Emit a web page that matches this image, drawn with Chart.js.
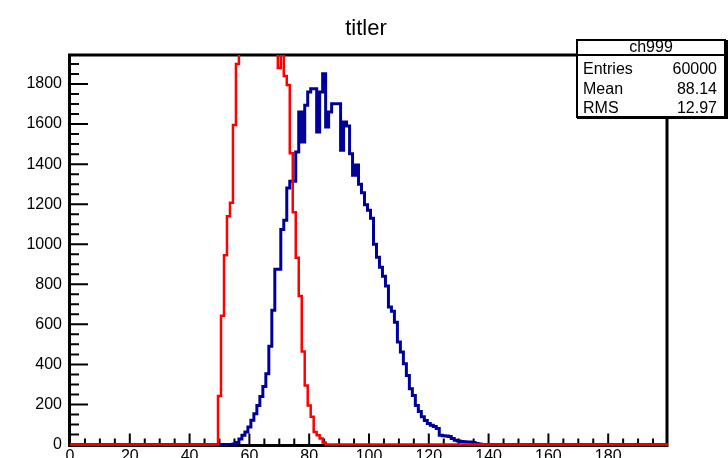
<!DOCTYPE html>
<html>
<head>
<meta charset="utf-8">
<script src="https://cdn.jsdelivr.net/npm/chart.js@4"></script>
<style>
  html, body { margin: 0; padding: 0; background: #fff; }
  #wrap { width: 728px; height: 458px; }
</style>
</head>
<body>
<div id="wrap"><canvas id="hist"></canvas></div>
<script>
// histogram binning: 200 bins of width 1, bin k is centred on k
const nBins = 200;
const xMax = 200;
const yMax = 1945;

// ch999 (blue), first filled bin is 55
const blueStart = 55;
const blueCounts = [3, 10, 28, 46, 63, 88, 121, 154, 195, 240, 290, 353, 490, 670,
    875, 875, 1074, 1120, 1281, 1314, 1314,
    1461, 1660, 1511, 1694, 1760, 1777, 1777, 1561, 1760, 1851,
    1585, 1660, 1702, 1702, 1702, 1469, 1610, 1590, 1452, 1345,
    1396, 1300, 1257, 1197, 1170, 1130, 1000, 935, 885, 840,
    792, 686, 666, 611, 512, 462, 403, 345, 278, 245,
    195, 165, 138, 120, 105, 96, 90, 80, 46, 44, 42, 40, 30, 21,
    18, 15, 14, 13, 12, 10, 5, 2];

// second histogram drawn "same" (red), first filled bin is 50
const redStart = 50;
const redCounts = [242, 643, 945, 1140, 1207, 1596, 1900,
    2150, 2400, 2600, 2800, 2950, 3050, 3100, 3080, 3000, 2850, 2650, 2400, 2150,
    1880, 1990, 1840, 1795, 1455, 1160, 933, 742, 464,
    295, 195, 138, 63, 46, 30, 10];

const xTicks = [0, 20, 40, 60, 80, 100, 120, 140, 160, 180];
const yTicks = [0, 200, 400, 600, 800, 1000, 1200, 1400, 1600, 1800];

const titleText = 'titler';
const statName = 'ch999';
const statLabels = ['Entries', 'Mean', 'RMS'];
const statValues = ['60000', '88.14', '12.97'];

// one point per bin low edge, stepped line holds the value across the bin
function histPoints(start, counts) {
    const pts = [];
    for (let k = 0; k <= nBins; k++) {
        const j = k - start;
        pts.push({ x: k - 0.5, y: (j >= 0 && j < counts.length) ? counts[j] : 0 });
    }
    pts.push({ x: nBins + 0.5, y: 0 });
    return pts;
}

const FONT = "'Liberation Sans', Arial, Helvetica, sans-serif";
Chart.defaults.font.family = FONT;
Chart.defaults.font.size = 16;
Chart.defaults.color = '#000';

// inner ticks + frame like ROOT
const rootFrame = {
    id: 'rootFrame',
    beforeDatasetsDraw(chart) {
        const { ctx, chartArea: a, scales } = chart;
        const x = scales.x, y = scales.y;
        ctx.save();
        ctx.strokeStyle = '#000';
        ctx.lineWidth = 2;
        ctx.beginPath();
        for (let v = 5; v < xMax; v += 5) {
            const px = x.getPixelForValue(v);
            const len = v % 20 === 0 ? 11 : 6;
            ctx.moveTo(px, a.bottom);
            ctx.lineTo(px, a.bottom - len);
        }
        for (let v = 50; v < yMax; v += 50) {
            const py = y.getPixelForValue(v);
            const len = v % 200 === 0 ? 18 : 9;
            ctx.moveTo(a.left, py);
            ctx.lineTo(a.left + len, py);
        }
        ctx.stroke();
        ctx.lineWidth = 3;
        ctx.strokeRect(a.left - 0.5, a.top, a.right - a.left - 0.5, a.bottom - a.top + 1);
        ctx.restore();
    }
};

// title (centred on the whole canvas) and stats box top right
const rootText = {
    id: 'rootText',
    afterDraw(chart) {
        const ctx = chart.ctx;
        ctx.save();
        ctx.fillStyle = '#000';
        ctx.font = '22px ' + FONT;
        ctx.textAlign = 'center';
        ctx.textBaseline = 'alphabetic';
        ctx.fillText(titleText, chart.width / 2 + 2, 35);

        const bx = 577, by = 40, bw = 148, bh = 77, head = 15;
        ctx.fillStyle = '#fff';
        ctx.fillRect(bx, by, bw, bh);
        ctx.strokeStyle = '#000';
        ctx.lineWidth = 2;
        ctx.strokeRect(bx, by, bw, bh);
        ctx.lineWidth = 3;
        ctx.beginPath();
        ctx.moveTo(bx, by + bh + 0.5);
        ctx.lineTo(bx + bw + 1.5, by + bh + 0.5);
        ctx.lineTo(bx + bw + 1.5, by);
        ctx.stroke();
        ctx.lineWidth = 2;
        ctx.beginPath();
        ctx.moveTo(bx, by + head);
        ctx.lineTo(bx + bw, by + head);
        ctx.stroke();
        ctx.fillStyle = '#000';
        ctx.font = '16px ' + FONT;
        ctx.textBaseline = 'middle';
        ctx.textAlign = 'center';
        ctx.fillText(statName, bx + bw / 2, by + 8);
        statLabels.forEach((lab, i) => {
            const ty = 70 + i * 19.5;
            ctx.textAlign = 'left';
            ctx.fillText(lab, bx + 6, ty);
            ctx.textAlign = 'right';
            ctx.fillText(statValues[i], bx + 140, ty);
        });
        ctx.restore();
    }
};

new Chart(document.getElementById('hist'), {
    type: 'line',
    data: {
        datasets: [{
            label: 'red',
            data: histPoints(redStart, redCounts),
            borderColor: '#ff0000',
            borderWidth: 2.5,
            stepped: true,
            pointRadius: 0,
            fill: false,
            order: 0,
            clip: { left: 0, top: 0, right: 0, bottom: 3 }
        }, {
            label: statName,
            data: histPoints(blueStart, blueCounts),
            borderColor: '#000099',
            borderWidth: 3,
            stepped: true,
            pointRadius: 0,
            fill: false,
            order: 1,
            clip: { left: 0, top: 0, right: 0, bottom: 3 }
        }]
    },
    options: {
        responsive: true,
        maintainAspectRatio: false,
        animation: false,
        layout: { padding: { left: 0, right: 60, top: 55, bottom: 0 } },
        plugins: {
            legend: { display: false },
            tooltip: { enabled: false },
            title: { display: false }
        },
        scales: {
            x: {
                type: 'linear',
                min: 0,
                max: xMax,
                grid: { display: false, drawTicks: false },
                border: { display: false },
                afterBuildTicks: (scale) => { scale.ticks = xTicks.map(v => ({ value: v })); },
                afterFit: (scale) => { scale.height = 13.5; },
                ticks: { padding: 2, maxRotation: 0, autoSkip: false, color: '#000' }
            },
            y: {
                type: 'linear',
                min: 0,
                max: yMax,
                grid: { display: false, drawTicks: false },
                border: { display: false },
                afterBuildTicks: (scale) => { scale.ticks = yTicks.map(v => ({ value: v })); },
                afterFit: (scale) => {
                    scale.width = 70;
                    scale.paddingTop = 0;
                    scale.paddingBottom = 0;
                },
                ticks: {
                    padding: 8,
                    autoSkip: false,
                    color: '#000',
                    callback: (v) => String(v)
                }
            }
        }
    },
    plugins: [rootFrame, rootText]
});
</script>
</body>
</html>
